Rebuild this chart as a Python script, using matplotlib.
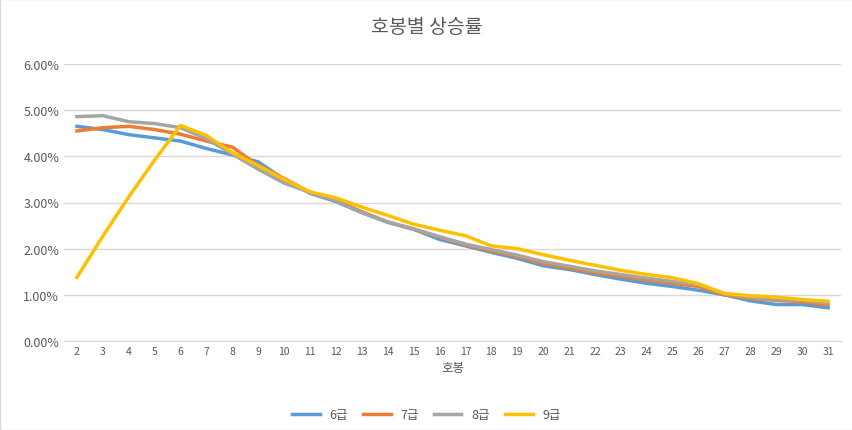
import matplotlib
matplotlib.use("Agg")
import matplotlib.pyplot as plt
from matplotlib import font_manager as fm
from matplotlib.ticker import PercentFormatter

fam = "DejaVu Sans"
for f in fm.findSystemFonts():
    if "CJK" in f and ("Regular" in f or "CJK-" in f):
        try:
            fm.fontManager.addfont(f)
            fam = fm.FontProperties(fname=f).get_name()
            break
        except Exception:
            pass
names = {f.name for f in fm.fontManager.ttflist}
for cand in ["Noto Sans CJK KR", "Noto Sans CJK JP", "Noto Sans CJK SC"]:
    if cand in names:
        fam = cand
        break
plt.rcParams["font.family"] = [fam, "DejaVu Sans"]

steps = list(range(2, 32))
g6 = [4.65,4.58,4.47,4.40,4.33,4.17,4.03,3.88,3.50,3.20,3.02,2.78,2.57,2.42,2.20,2.06,1.92,1.79,1.63,1.55,1.44,1.34,1.25,1.18,1.10,1.00,0.87,0.79,0.79,0.72]
g7 = [4.55,4.62,4.65,4.58,4.48,4.33,4.20,3.80,3.52,3.22,3.05,2.80,2.58,2.42,2.25,2.08,1.95,1.83,1.68,1.58,1.48,1.40,1.32,1.25,1.18,1.00,0.92,0.88,0.85,0.78]
g8 = [4.86,4.88,4.75,4.71,4.62,4.38,4.05,3.72,3.42,3.22,3.04,2.78,2.58,2.43,2.26,2.10,1.98,1.86,1.72,1.62,1.52,1.44,1.36,1.29,1.22,1.02,0.94,0.90,0.88,0.82]
g9 = [1.38,2.27,3.12,3.92,4.67,4.45,4.08,3.80,3.50,3.23,3.10,2.90,2.72,2.53,2.40,2.28,2.06,2.00,1.87,1.75,1.64,1.53,1.44,1.37,1.24,1.03,0.98,0.95,0.90,0.86]
series = [("6급", g6, "#5B9BD5"), ("7급", g7, "#ED7D31"), ("8급", g8, "#A5A5A5"), ("9급", g9, "#FFC000")]

fig = plt.figure(figsize=(8.53, 4.31), dpi=100)
fig.patches.append(plt.Rectangle((0, 0), 1, 1, transform=fig.transFigure, fill=False, edgecolor="#D9D9D9", lw=1))
ax = fig.add_axes([64/853, 1-342/431, (841-64)/853, (342-65)/431])
x = list(range(len(steps)))
for name, vals, c in series:
    ax.plot(x, vals, color=c, lw=2.5, label=name)
ax.set_xlim(-0.5, len(steps)-0.5)
ax.set_ylim(0, 6)
ax.set_yticks([0,1,2,3,4,5,6])
ax.yaxis.set_major_formatter(PercentFormatter(decimals=2))
ax.set_xticks(x)
ax.set_xticklabels([str(s) for s in steps], fontsize=7.5, color="#595959")
ax.tick_params(axis="y", labelsize=9, colors="#595959", length=0)
ax.tick_params(axis="x", length=0)
ax.grid(axis="y", color="#D9D9D9", lw=1)
ax.set_axisbelow(True)
for s in ["top", "right", "left"]:
    ax.spines[s].set_visible(False)
ax.spines["bottom"].set_color("#D9D9D9")
ax.set_xlabel("호봉", fontsize=9, color="#595959")
fig.text(0.5, 1-28/431, "호봉별 상승률", ha="center", va="center", fontsize=14, color="#595959")
fig.legend(loc="center", bbox_to_anchor=(0.5, 1-416/431), ncol=4, frameon=False, fontsize=9,
           handlelength=2.2, columnspacing=1.2, labelcolor="#595959")
fig.savefig("out.png", dpi=100)
